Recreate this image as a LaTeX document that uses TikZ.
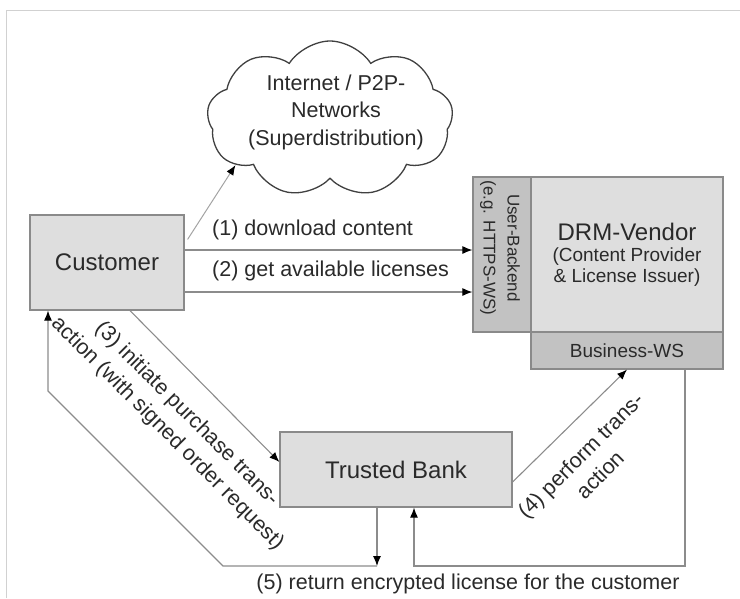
\documentclass[tikz,border=0pt]{standalone}
\usepackage{fontspec}
\setmainfont{Liberation Sans}
\usetikzlibrary{shapes.symbols,arrows.meta,calc}
\definecolor{boxfill}{HTML}{DEDEDE}
\definecolor{darkfill}{HTML}{C2C2C2}
\definecolor{edgecol}{HTML}{8A8A8A}
\definecolor{conncol}{HTML}{8C8C8C}
\definecolor{txtcol}{HTML}{2A2A2A}
\newcommand\lblfont{\fontsize{21.5}{27.5}\selectfont}
\newcommand\ttlfont{\fontsize{24}{30}\selectfont}
\newcommand\subfnt{\fontsize{19}{21}\selectfont}
\newcommand\stripfnt{\fontsize{17}{24}\selectfont}
\begin{document}
\begin{tikzpicture}[x=1pt,y=-1pt,
  box/.style={draw=edgecol, line width=1.2pt, fill=boxfill, inner sep=0pt, text=txtcol},
  dbox/.style={draw=edgecol, line width=1.2pt, fill=darkfill, inner sep=0pt, text=txtcol},
  conn/.style={draw=conncol, line width=1.1pt, -{Latex[length=10pt,width=8pt,black]}},
  plain/.style={draw=conncol, line width=1.1pt},
  lbl/.style={font=\lblfont, text=txtcol, inner sep=0pt, align=center}
]
\useasboundingbox (0,0) rectangle (740,598);
\draw[black!18, line width=1pt] (6,598) -- (6,10) -- (740,10);

% cloud
\node[cloud, draw=black!75, line width=1.3pt, fill=white, cloud puffs=9, cloud puff arc=115,
      cloud ignores aspect, minimum width=246pt, minimum height=156pt, inner sep=0pt,
      shape border rotate=10] (cloud) at (330,119) {};
\node[lbl] (cloudtxt) at (336,112) {Internet / P2P-\\Networks\\(Superdistribution)};

% boxes
\node[box, minimum width=154pt, minimum height=95pt, font=\ttlfont] (customer) at (107,262.5) {Customer};
\node[box, minimum width=192pt, minimum height=155pt] (drm) at (627,254.5) {};
\node[dbox, minimum width=58pt, minimum height=155pt] (strip) at (502,254.5) {};
\node[dbox, minimum width=192pt, minimum height=37pt, font=\subfnt] (bws) at (627,350.5) {Business-WS};
\node[box, minimum width=232pt, minimum height=75pt, font=\ttlfont] (bank) at (396,469.5) {Trusted Bank};

\node[font=\ttlfont, text=txtcol, inner sep=0pt] (drmtitle) at (627,232) {DRM-Vendor};
\node[font=\subfnt, text=txtcol, inner sep=0pt, align=center] (drmsub) at (627,267.5) {(Content Provider\\\& License Issuer)};
\node[font=\stripfnt, text=txtcol, inner sep=0pt, align=center, rotate=-90] (striptxt) at (500,248) {User-Backend\\(e.g. HTTPS-WS)};

% connectors
\coordinate (c1) at ($(customer.north east)+(3,25)$);
\draw[draw=conncol!80, line width=1pt, -{Latex[length=10pt,width=8pt,black]}] (c1) -- (cloud.206);

\draw[conn] (customer.east |- 0,250) -- (strip.west |- 0,250);
\draw[conn] (customer.east |- 0,292) -- (strip.west |- 0,292);
\node[lbl, anchor=west] (l1) at (212,230) {(1) download content};
\node[lbl, anchor=west] (l2) at (212,271) {(2) get available licenses};

\draw[conn] (customer.south -| 130,0) -- (bank.west |- 0,462);
\node[lbl, rotate=-45] (l3) at (177,424) {(3) initiate purchase trans-\\action (with signed order request)};

\draw[conn] (bank.east |- 0,482) -- (bws.south);
\node[lbl, rotate=45] (l4) at (590,465) {(4) perform trans-\\action};

\coordinate (d1) at (377,566);
\draw[conn] (bank.south -| d1) -- (d1);
\coordinate (d2) at (223,566);
\coordinate (d3) at (48,391);
\draw[conn] (d1) -- (d2) -- (d3) -- (customer.south -| d3);

\coordinate (e1) at (685,566);
\coordinate (e2) at (414,566);
\draw[conn] (bws.south -| e1) -- (e1) -- (e2) -- (bank.south -| e2);

\node[lbl] (l5) at (468,584) {(5) return encrypted license for the customer};
\end{tikzpicture}
\end{document}
